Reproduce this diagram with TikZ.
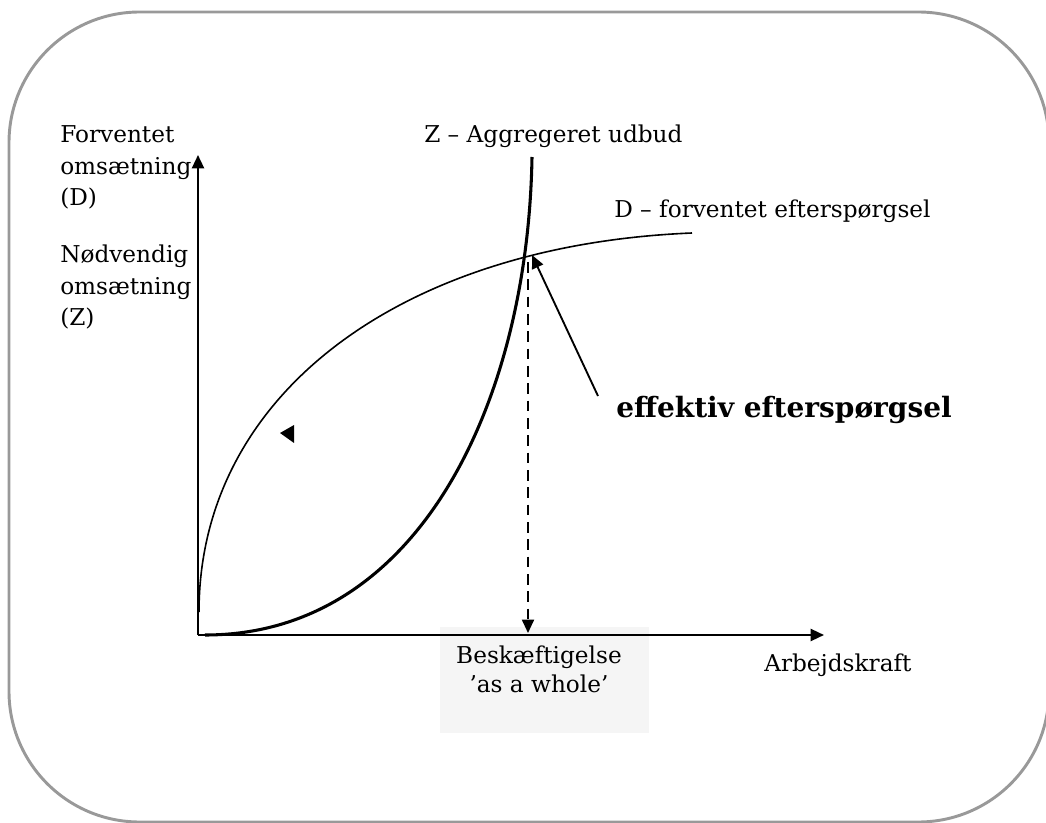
\documentclass[tikz,border=0pt]{standalone}
\usepackage{fontspec}
\setmainfont{DejaVu Serif}
\usetikzlibrary{arrows.meta}
\begin{document}
\begin{tikzpicture}[x=0.75pt,y=-0.75pt,
  lbl/.style={inner sep=0pt,font=\fontsize{17.4pt}{21pt}\selectfont},
  axis/.style={line width=1.7pt,-{Triangle[length=10pt,width=9pt]}},
  tip/.style={-{Triangle[length=10pt,width=9pt]}}]
\useasboundingbox (0,0) rectangle (1046,823);
\begin{scope}
\clip (0,0) rectangle (1046,823);
\draw[color=black!40,line width=2.2pt,rounded corners=98pt] (9,12) rectangle (1049,822);
\end{scope}
% gray label box
\fill[black!4] (440,627) rectangle (649,733);
% axes
\coordinate (O) at (198,635);
\coordinate (ytop) at (198,155);
\coordinate (xend) at (824,635);
\draw[axis] (O) -- (ytop);
\draw[axis] (O) -- (xend);
% curves
\coordinate (zs) at (205,635);
\coordinate (ze) at (532,157);
\coordinate (ds) at (199,612);
\coordinate (de) at (692,233);
\coordinate (E) at (528,255);
\draw[line width=2.3pt] (zs) .. controls (420,635) and (528,400) .. (ze);
\draw[line width=1.2pt] (ds) .. controls (199,395) and (400,245) .. (de);
% dashed drop line
\coordinate (Eb) at (528,633);
\draw[line width=1.4pt,dash pattern=on 8pt off 5pt,tip] (528,262) -- (Eb);
% effektiv arrow
\coordinate (etail) at (598,396);
\draw[line width=1.4pt,tip] (etail) -- (532,255);
% stray triangle
\fill (280,433) -- (294,425) -- (294,443) -- cycle;
% labels
\node[lbl,anchor=base west] (f1) at (60,143) {Forventet};
\node[lbl,anchor=base west] (f2) at (60,175) {omsætning};
\node[lbl,anchor=base west] (f3) at (60,206) {(D)};
\node[lbl,anchor=base west] (n1) at (60,263) {Nødvendig};
\node[lbl,anchor=base west] (n2) at (60,295) {omsætning};
\node[lbl,anchor=base west] (n3) at (60,326) {(Z)};
\node[lbl,anchor=base west] (zl) at (424,143) {Z – Aggregeret udbud};
\node[lbl,anchor=base west] (dl) at (614,218) {D – forventet efterspørgsel};
\node[inner sep=0pt,anchor=base west,font=\fontsize{21pt}{24pt}\selectfont\bfseries] (eff) at (616,417) {effektiv efterspørgsel};
\node[lbl,anchor=base west] (ab) at (764,671) {Arbejdskraft};
\node[lbl,anchor=base] (b1) at (539,663) {Beskæftigelse};
\node[lbl,anchor=base] (b2) at (539,692) {’as a whole’};
\end{tikzpicture}
\end{document}
